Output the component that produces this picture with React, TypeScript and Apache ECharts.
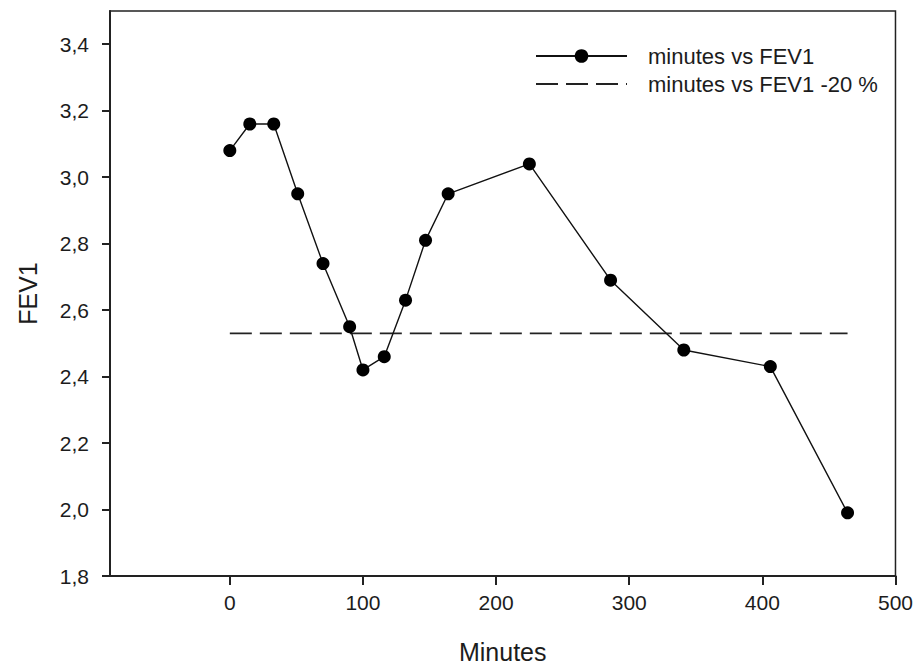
import React, { useEffect, useRef } from "react";
import * as echarts from "echarts";

const minutes = [0, 15, 33, 51, 70, 90, 100, 116, 132, 147, 164, 225, 286, 341, 406, 464];
const fev1 = [3.08, 3.16, 3.16, 2.95, 2.74, 2.55, 2.42, 2.46, 2.63, 2.81, 2.95, 3.04, 2.69, 2.48, 2.43, 1.99];
const thresholdMinutes = [0, 464];
const thresholdValues = [2.53, 2.53];
const xTicks = [0, 100, 200, 300, 400, 500];
const yTicks = [1.8, 2.0, 2.2, 2.4, 2.6, 2.8, 3.0, 3.2, 3.4];
const seriesNames = ["minutes vs FEV1", "minutes vs FEV1 -20 %"];

const FONT = "'Liberation Sans', Arial, sans-serif";
const TXT = "#1c1c1c";

export default function App() {
  const ref = useRef<HTMLDivElement>(null);
  useEffect(() => {
    if (!ref.current) return;
    const chart = echarts.init(ref.current, null, { renderer: "svg" });
    chart.setOption({
      animation: false,
      backgroundColor: "#fff",
      textStyle: { fontFamily: FONT },
      grid: {
        left: 110,
        top: 11,
        right: 19,
        bottom: 93,
        show: true,
        borderColor: "#222",
        borderWidth: 1.5,
        containLabel: false,
      },
      legend: {
        orient: "vertical",
        left: 530,
        top: 40,
        itemWidth: 91,
        itemHeight: 17,
        itemGap: 6,
        data: [
          { name: seriesNames[0] },
          { name: seriesNames[1], itemStyle: { opacity: 0 } },
        ],
        textStyle: { fontFamily: FONT, fontSize: 22, color: TXT, padding: [0, 0, 0, 16] },
      },
      xAxis: {
        type: "value",
        min: -90,
        max: 500,
        name: "Minutes",
        nameLocation: "middle",
        nameGap: 63,
        nameTextStyle: { fontFamily: FONT, fontSize: 25, color: TXT },
        splitLine: { show: false },
        axisLine: { show: true, onZero: false, lineStyle: { color: "#222", width: 2 } },
        axisTick: { show: true, inside: false, length: 9, customValues: xTicks, lineStyle: { color: "#222", width: 2 } },
        axisLabel: {
          customValues: xTicks,
          margin: 16,
          fontFamily: FONT,
          fontSize: 21,
          color: TXT,
        },
      },
      yAxis: {
        type: "value",
        min: 1.8,
        max: 3.5,
        name: "FEV1",
        nameLocation: "middle",
        nameGap: 70,
        nameTextStyle: { fontFamily: FONT, fontSize: 25, color: TXT },
        splitLine: { show: false },
        axisLine: { show: true, onZero: false, lineStyle: { color: "#222", width: 2 } },
        axisTick: { show: true, inside: false, length: 8, customValues: yTicks, lineStyle: { color: "#222", width: 2 } },
        axisLabel: {
          customValues: yTicks,
          margin: 21,
          fontFamily: FONT,
          fontSize: 21,
          color: TXT,
          formatter: (v: number) => v.toFixed(1).replace(".", ","),
        },
      },
      series: [
        {
          name: seriesNames[0],
          type: "line",
          data: minutes.map((m, i) => [m, fev1[i]]),
          symbol: "circle",
          symbolSize: 13,
          itemStyle: { color: "#000" },
          lineStyle: { color: "#111", width: 1.4 },
          z: 3,
        },
        {
          name: seriesNames[1],
          type: "line",
          data: thresholdMinutes.map((m, i) => [m, thresholdValues[i]]),
          symbol: "none",
          itemStyle: { color: "#222" },
          lineStyle: { color: "#222", width: 1.6, type: [22, 8] },
          z: 2,
        },
      ],
    });
    return () => chart.dispose();
  }, []);
  return (
    <div
      ref={ref}
      style={{ position: "fixed", left: 0, top: 0, width: 916, height: 669, background: "#fff" }}
    />
  );
}
